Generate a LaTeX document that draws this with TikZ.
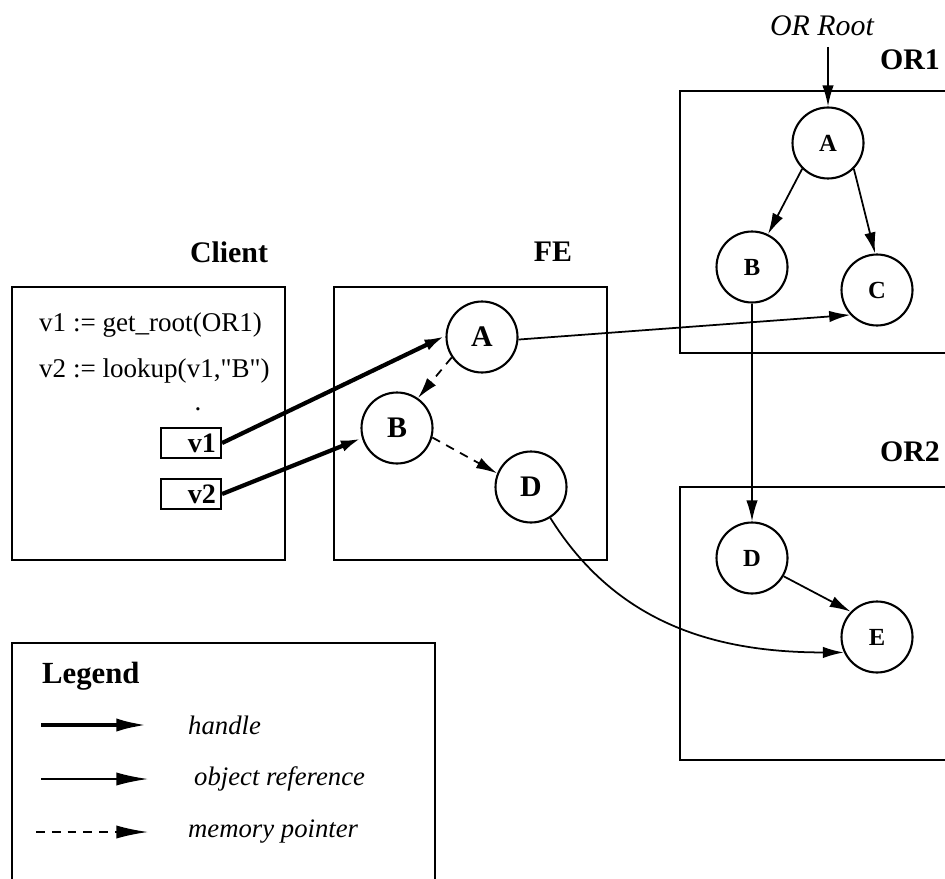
\documentclass[tikz,border=0pt]{standalone}
\usepackage{fontspec}
\setmainfont{Liberation Serif}
\newfontfamily\codefont{Liberation Serif}
\usetikzlibrary{arrows.meta}
\begin{document}
\begin{tikzpicture}[x=0.02cm,y=-0.02cm,
  obj/.style={circle,draw,line width=1.2pt,minimum size=1.42cm,inner sep=0pt,font=\bfseries\fontsize{14}{16}\selectfont},
  feobj/.style={obj,font=\bfseries\fontsize{17}{19}\selectfont},
  frame/.style={draw,line width=1.2pt},
  title/.style={font=\bfseries\fontsize{17}{19}\selectfont},
  vbox/.style={draw,line width=1.2pt,minimum width=1.2cm,minimum height=0.6cm,inner sep=2pt,anchor=west,align=right,text width=1.0cm,font=\bfseries\fontsize{16}{18}\selectfont},
  tip/.style={-{Latex[length=12pt,width=6.5pt]}},
  bigtip/.style={-{Latex[length=18pt,width=7.5pt]}},
  handle/.style={tip,line width=2.4pt},
  objref/.style={tip,line width=1.0pt},
  memptr/.style={tip,line width=1.0pt,dash pattern=on 5pt off 4pt},
  ital/.style={font=\itshape\fontsize{15.2}{17}\selectfont,anchor=west},
  code/.style={anchor=base west,font=\codefont\fontsize{15.4}{17}\selectfont}]
\useasboundingbox (0,0) rectangle (945,878);
% frames
\draw[frame] (12,287) rectangle (285,560);
\draw[frame] (334,287) rectangle (607,560);
\draw[frame] (680,91) rectangle (960,353);
\draw[frame] (680,487) rectangle (960,760);
\draw[frame] (12,890) -- (12,643) -- (435,643) -- (435,890);
% titles
\node[title] (tclient) at (229,252) {Client};
\node[title] (tfe) at (553,252) {FE};
\node[title] (tor1) at (910,60) {OR1};
\node[title] (tor2) at (910,452) {OR2};
\node[font=\itshape\fontsize{17}{19}\selectfont] (troot) at (822,26) {OR Root};
% client text
\node[code] (l1) at (33,331) {v1 := get\_root(OR1)};
\node[code] (l2) at (33,377) {v2 := lookup(v1,"B")};
\node[code,anchor=base] (dot) at (198,410) {.};
\node[vbox] (v1) at (160,443) {v1};
\node[vbox] (v2) at (160,494) {v2};
% FE objects
\node[feobj] (fA) at (482,337) {A};
\node[feobj] (fB) at (397,428) {B};
\node[feobj] (fD) at (531,487) {D};
% OR1 objects
\node[obj] (oA) at (828,143) {A};
\node[obj] (oB) at (752,267) {B};
\node[obj] (oC) at (877,290) {C};
% OR2 objects
\node[obj] (pD) at (752,558) {D};
\node[obj] (pE) at (877,637) {E};
\coordinate (root) at (828,47);
% connectors
\draw[handle] (v1.east) -- (fA.178);
\draw[handle] (v2.east) -- (fB.196);
\draw[memptr] (fA.214) -- (fB.55);
\draw[memptr] (fB.-15) -- (fD.158);
\draw[objref] (fA.-4) -- (oC.223);
\draw[objref] (fD.-58) to[out=-58,in=180] (pE.-155);
\draw[objref] (root) -- (oA.north);
\draw[objref] (oA.225) -- (oB.64);
\draw[objref] (oA.-45) -- (oC.93);
\draw[objref] (oB.south) -- (pD.north);
\draw[objref] (pD.-30) -- (pE.136);
% legend
\node[anchor=base west,font=\bfseries\fontsize{17.5}{19}\selectfont] (leg) at (36,683) {Legend};
\coordinate (h1) at (41,725); \coordinate (h2) at (148,725);
\coordinate (o1) at (41,779); \coordinate (o2) at (148,779);
\coordinate (m1) at (36,832); \coordinate (m2) at (148,832);
\draw[handle,bigtip] (h1) -- (h2);
\draw[objref,bigtip] (o1) -- (o2);
\draw[memptr,bigtip] (m1) -- (m2);
\node[ital] (th) at (182,725) {handle};
\node[ital] (to) at (188,779) {object reference};
\node[ital] (tm) at (182,832) {memory pointer};
\end{tikzpicture}
\end{document}
